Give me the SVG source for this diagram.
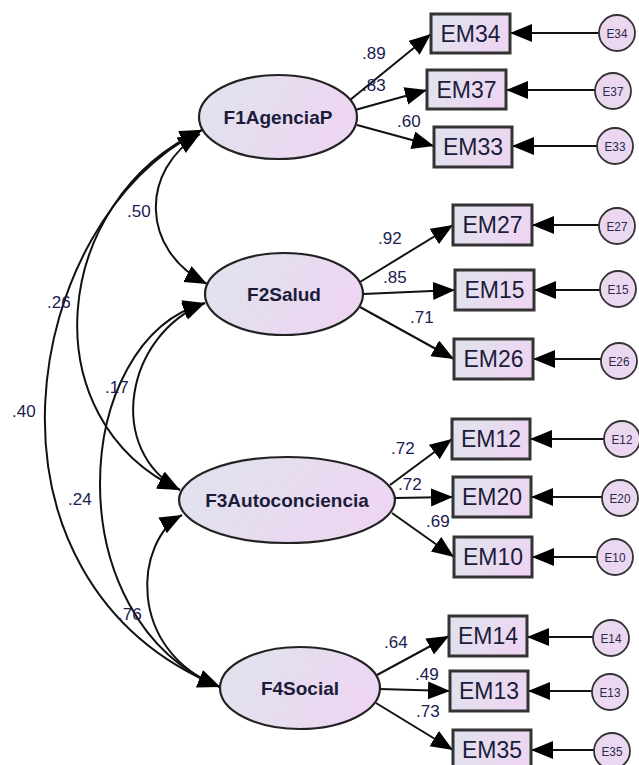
<svg xmlns="http://www.w3.org/2000/svg" width="639" height="765" viewBox="0 0 639 765">
<defs>
<linearGradient id="g" x1="0" y1="0" x2="1" y2="0.3">
<stop offset="0" stop-color="#dfe4ee"/>
<stop offset="1" stop-color="#edd6f1"/>
</linearGradient>
<marker id="ah" markerUnits="userSpaceOnUse" markerWidth="24" markerHeight="20" refX="22" refY="9" orient="auto-start-reverse" viewBox="0 0 24 20">
<path d="M0,0 L22,9 L0,18 z" fill="#000"/>
</marker>
</defs>
<style>
.lat{fill:url(#g);stroke:#222;stroke-width:2.2}
.box{fill:url(#g);stroke:#333;stroke-width:3}
.err{fill:#ebd8f0;stroke:#333;stroke-width:1.8}
.ln{fill:none;stroke:#111;stroke-width:2}
.lt{font-family:"Liberation Sans",Arial,sans-serif;font-weight:bold;font-size:19px;fill:#1c1c3a;text-anchor:middle}
.bt{font-family:"Liberation Sans",Arial,sans-serif;font-size:23px;fill:#1c1c3a;text-anchor:middle}
.et{font-family:"Liberation Sans",Arial,sans-serif;font-size:13px;fill:#2a2a4a;text-anchor:middle}
.nm{font-family:"Liberation Sans",Arial,sans-serif;font-size:17px;fill:#1a2050}
</style>
<rect width="639" height="765" fill="#fff"/>
<g id="connectors">
<path class="ln" d="M200 134 C140 170 140 250 207 284" marker-start="url(#ah)" marker-end="url(#ah)"/>
<path class="ln" d="M202 130 C50 200 30 420 180 490" marker-start="url(#ah)" marker-end="url(#ah)"/>
<path class="ln" d="M202 130 C20 220 -40 580 220 687" marker-start="url(#ah)" marker-end="url(#ah)"/>
<path class="ln" d="M205 303 C125 335 105 450 180 490" marker-start="url(#ah)" marker-end="url(#ah)"/>
<path class="ln" d="M205 303 C70 340 55 620 220 687" marker-start="url(#ah)" marker-end="url(#ah)"/>
<path class="ln" d="M182 515 C135 540 125 650 220 687" marker-start="url(#ah)" marker-end="url(#ah)"/>
<path class="ln" d="M350 100 L431 34" marker-end="url(#ah)"/>
<path class="ln" d="M355 110 L427 90" marker-end="url(#ah)"/>
<path class="ln" d="M357 125 L434 146" marker-end="url(#ah)"/>
<path class="ln" d="M360 282 L453 225" marker-end="url(#ah)"/>
<path class="ln" d="M363 294 L455 290" marker-end="url(#ah)"/>
<path class="ln" d="M360 307 L454 359" marker-end="url(#ah)"/>
<path class="ln" d="M390 485 L452 439" marker-end="url(#ah)"/>
<path class="ln" d="M395 498 L453 497" marker-end="url(#ah)"/>
<path class="ln" d="M392 513 L454 557" marker-end="url(#ah)"/>
<path class="ln" d="M377 675 L449 636" marker-end="url(#ah)"/>
<path class="ln" d="M379 689 L450 691" marker-end="url(#ah)"/>
<path class="ln" d="M376 703 L453 750" marker-end="url(#ah)"/>
<path class="ln" d="M599 33 L510 33" marker-end="url(#ah)"/>
<path class="ln" d="M595 90 L506 90" marker-end="url(#ah)"/>
<path class="ln" d="M597 146 L512 146" marker-end="url(#ah)"/>
<path class="ln" d="M599 225 L532 225" marker-end="url(#ah)"/>
<path class="ln" d="M600 290 L534 290" marker-end="url(#ah)"/>
<path class="ln" d="M601 359 L533 359" marker-end="url(#ah)"/>
<path class="ln" d="M604 439 L530 439" marker-end="url(#ah)"/>
<path class="ln" d="M602 497 L531 497" marker-end="url(#ah)"/>
<path class="ln" d="M597 557 L532 557" marker-end="url(#ah)"/>
<path class="ln" d="M593 637 L527 637" marker-end="url(#ah)"/>
<path class="ln" d="M592 691 L528 691" marker-end="url(#ah)"/>
<path class="ln" d="M594 750 L531 750" marker-end="url(#ah)"/>
</g>
<g id="labels">
<text class="nm" x="362" y="59">.89</text>
<text class="nm" x="362" y="91">.83</text>
<text class="nm" x="397" y="127">.60</text>
<text class="nm" x="378" y="244">.92</text>
<text class="nm" x="383" y="283">.85</text>
<text class="nm" x="410" y="323">.71</text>
<text class="nm" x="391" y="454">.72</text>
<text class="nm" x="398" y="490">.72</text>
<text class="nm" x="426" y="527">.69</text>
<text class="nm" x="384" y="648">.64</text>
<text class="nm" x="415" y="680">.49</text>
<text class="nm" x="416" y="717">.73</text>
<text class="nm" x="127" y="217">.50</text>
<text class="nm" x="47" y="308">.26</text>
<text class="nm" x="105" y="393">.17</text>
<text class="nm" x="12" y="417">.40</text>
<text class="nm" x="68" y="505">.24</text>
<text class="nm" x="118" y="620">.76</text>
</g>
<g id="F1"><ellipse class="lat" cx="278" cy="117" rx="79" ry="42"/><text class="lt" x="278" y="124">F1AgenciaP</text></g>
<g id="F2"><ellipse class="lat" cx="284" cy="294" rx="79" ry="41"/><text class="lt" x="284" y="301">F2Salud</text></g>
<g id="F3"><ellipse class="lat" cx="287" cy="500" rx="108" ry="43"/><text class="lt" x="287" y="507">F3Autoconciencia</text></g>
<g id="F4"><ellipse class="lat" cx="300" cy="688" rx="80" ry="41"/><text class="lt" x="300" y="695">F4Social</text></g>
<g id="EM34"><rect class="box" x="431" y="14" width="79" height="39"/><text class="bt" x="470.5" y="42">EM34</text></g>
<g id="EM37"><rect class="box" x="427" y="70" width="79" height="39"/><text class="bt" x="466.5" y="98">EM37</text></g>
<g id="EM33"><rect class="box" x="434" y="127" width="78" height="40"/><text class="bt" x="473" y="155">EM33</text></g>
<g id="EM27"><rect class="box" x="453" y="205" width="79" height="40"/><text class="bt" x="492.5" y="233">EM27</text></g>
<g id="EM15"><rect class="box" x="455" y="270" width="79" height="40"/><text class="bt" x="494.5" y="298">EM15</text></g>
<g id="EM26"><rect class="box" x="454" y="339" width="79" height="40"/><text class="bt" x="493.5" y="367">EM26</text></g>
<g id="EM12"><rect class="box" x="452" y="419" width="78" height="40"/><text class="bt" x="491" y="447">EM12</text></g>
<g id="EM20"><rect class="box" x="453" y="477" width="78" height="40"/><text class="bt" x="492" y="505">EM20</text></g>
<g id="EM10"><rect class="box" x="454" y="537" width="78" height="40"/><text class="bt" x="493" y="565">EM10</text></g>
<g id="EM14"><rect class="box" x="449" y="616" width="78" height="40"/><text class="bt" x="488" y="644">EM14</text></g>
<g id="EM13"><rect class="box" x="450" y="671" width="78" height="40"/><text class="bt" x="489" y="699">EM13</text></g>
<g id="EM35"><rect class="box" x="453" y="730" width="78" height="40"/><text class="bt" x="492" y="758">EM35</text></g>
<g id="E34"><circle class="err" cx="617" cy="33" r="18"/><text class="et" x="617" y="38" textLength="21" lengthAdjust="spacingAndGlyphs">E34</text></g>
<g id="E37"><circle class="err" cx="613" cy="91" r="18"/><text class="et" x="613" y="96" textLength="21" lengthAdjust="spacingAndGlyphs">E37</text></g>
<g id="E33"><circle class="err" cx="615" cy="146" r="18"/><text class="et" x="615" y="151" textLength="21" lengthAdjust="spacingAndGlyphs">E33</text></g>
<g id="E27"><circle class="err" cx="617" cy="226" r="18"/><text class="et" x="617" y="231" textLength="21" lengthAdjust="spacingAndGlyphs">E27</text></g>
<g id="E15"><circle class="err" cx="618" cy="289" r="18"/><text class="et" x="618" y="294" textLength="21" lengthAdjust="spacingAndGlyphs">E15</text></g>
<g id="E26"><circle class="err" cx="619" cy="361" r="18"/><text class="et" x="619" y="366" textLength="21" lengthAdjust="spacingAndGlyphs">E26</text></g>
<g id="E12"><circle class="err" cx="622" cy="439" r="18"/><text class="et" x="622" y="444" textLength="21" lengthAdjust="spacingAndGlyphs">E12</text></g>
<g id="E20"><circle class="err" cx="620" cy="498" r="18"/><text class="et" x="620" y="503" textLength="21" lengthAdjust="spacingAndGlyphs">E20</text></g>
<g id="E10"><circle class="err" cx="615" cy="557" r="18"/><text class="et" x="615" y="562" textLength="21" lengthAdjust="spacingAndGlyphs">E10</text></g>
<g id="E14"><circle class="err" cx="611" cy="638" r="18"/><text class="et" x="611" y="643" textLength="21" lengthAdjust="spacingAndGlyphs">E14</text></g>
<g id="E13"><circle class="err" cx="610" cy="692" r="18"/><text class="et" x="610" y="697" textLength="21" lengthAdjust="spacingAndGlyphs">E13</text></g>
<g id="E35"><circle class="err" cx="612" cy="751" r="18"/><text class="et" x="612" y="756" textLength="21" lengthAdjust="spacingAndGlyphs">E35</text></g>
</svg>
